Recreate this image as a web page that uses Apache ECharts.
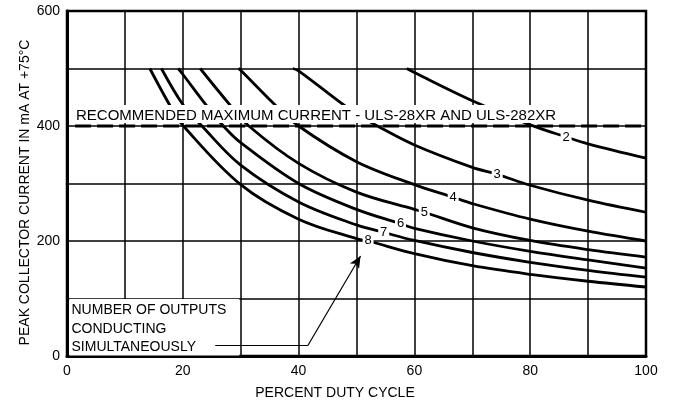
<!DOCTYPE html>
<html>
<head>
<meta charset="utf-8">
<script src="https://cdn.jsdelivr.net/npm/echarts@6/dist/echarts.min.js"></script>
<style>
  html, body { margin: 0; padding: 0; background: #fff; }
</style>
</head>
<body>
<div id="container" style="width: 677px; height: 406px;"></div>
<script>
// curves: [duty cycle %, peak current mA]
var curve2 = [[58.7,500],[60,493],[70,444],[80,402],[86.2,381],[90,369],[100,344]];
var curve3 = [[39,500],[40,496],[47.2,441],[50,421],[53.6,400],[60,367],[70,328],[74.3,316],[80,297],[90,271],[100,250]];
var curve4 = [[29.6,500],[30,497],[35.6,440],[40,400],[50,338],[60,298],[66.7,276],[70,265],[80,238],[90,217],[100,200]];
var curve5 = [[23,500],[28.2,436],[31.4,400],[40,335],[50,285],[60,255],[61.7,250],[70,223],[80,201],[90,185],[100,172]];
var curve6 = [[19.2,500],[20,490],[23.9,438],[27,400],[30,371],[40,300],[50,255],[57.6,230],[60,222],[70,200],[80,182],[90,167],[100,153]];
var curve7 = [[16.3,500],[20.1,436],[23.3,400],[30,332],[40,268],[50,228],[54.7,215],[60,201],[70,180],[80,163],[90,149],[100,137]];
var curve8 = [[14.3,500],[18.1,430],[20.1,400],[30,298],[40,238],[50,204],[52,200],[60,178],[70,157],[80,142],[90,130],[100,120]];

var curveNames = ['2','3','4','5','6','7','8'];
var curveData = [curve2, curve3, curve4, curve5, curve6, curve7, curve8];
// where the outputs number is written on each curve
var labelPos = [[86.2,381],[74.3,316],[66.7,276],[61.7,250],[57.6,230],[54.7,215],[52,201]];

var limitX = [1.4, 100];
var limitY = [400, 400];
var limitText = 'RECOMMENDED MAXIMUM CURRENT - ULS-28XR AND ULS-282XR';
var noteLines = ['NUMBER OF OUTPUTS', 'CONDUCTING', 'SIMULTANEOUSLY'];
var leader = [[25.6,18.3],[41.6,18.3],[50.7,174]];

var FONT = '"Liberation Sans", Arial, sans-serif';

var chart = echarts.init(document.getElementById('container'));

var series = [];
for (var i = 0; i < curveData.length; i++) {
  series.push({
    name: curveNames[i],
    type: 'line',
    data: curveData[i],
    smooth: 0.35,
    symbol: 'none',
    silent: true,
    lineStyle: {color: '#000', width: 2.8},
    markPoint: {
      silent: true,
      symbol: 'rect',
      symbolSize: [11, 15],
      itemStyle: {color: '#fff'},
      label: {show: true, formatter: '{b}', color: '#000', fontSize: 13, fontFamily: FONT},
      data: [{name: curveNames[i], coord: labelPos[i]}]
    }
  });
}

series.push({
  name: 'limit',
  type: 'line',
  data: [[limitX[0], limitY[0]], [limitX[1], limitY[1]]],
  symbol: 'none',
  silent: true,
  lineStyle: {color: '#000', width: 3, type: [16, 6]},
  markArea: {
    silent: true,
    itemStyle: {color: '#fff'},
    data: [[{coord: [0.4, 1]}, {coord: [29.75, 99]}]]
  },
  markLine: {
    silent: true,
    symbol: 'none',
    label: {show: false},
    lineStyle: {color: '#000', width: 1.2, type: 'solid'},
    data: [
      [{coord: leader[0], symbol: 'none'}, {coord: leader[1], symbol: 'none'}],
      [{coord: leader[1], symbol: 'none'}, {coord: leader[2], symbol: 'arrow', symbolSize: [8, 12]}]
    ]
  }
});

var graphics = [
  {type: 'rect', z: 50, shape: {x: 73, y: 105, width: 493, height: 18}, style: {fill: '#fff'}},
  {type: 'text', z: 51, x: 76, y: 116, style: {text: limitText, font: '15px ' + FONT, fill: '#000', verticalAlign: 'middle'}}
];
var noteY = [310.5, 329, 347];
for (var j = 0; j < noteLines.length; j++) {
  graphics.push({type: 'text', z: 51, x: 71.5, y: noteY[j],
    style: {text: noteLines[j], font: '14px ' + FONT, fill: '#000', verticalAlign: 'middle'}});
}

var option = {
  backgroundColor: '#fff',
  animation: false,
  grid: {left: 67, right: 31, top: 11, bottom: 50, show: true, borderColor: '#000', borderWidth: 2.5},
  xAxis: {
    type: 'value', min: 0, max: 100, interval: 10,
    axisLine: {lineStyle: {color: '#000', width: 3}},
    axisTick: {show: false},
    axisLabel: {color: '#000', fontSize: 14, fontFamily: FONT, margin: 8,
      formatter: function (v) { return v % 20 === 0 ? v : ''; }},
    splitLine: {lineStyle: {color: '#000', width: 1.5}},
    name: 'PERCENT DUTY CYCLE', nameLocation: 'middle', nameGap: 30, nameMoveOverlap: false,
    nameTextStyle: {color: '#000', fontSize: 14, fontFamily: FONT, padding: [0, 43, 0, 0]}
  },
  yAxis: {
    type: 'value', min: 0, max: 600, interval: 100,
    axisLine: {show: true, lineStyle: {color: '#000', width: 3}},
    axisTick: {show: false},
    axisLabel: {color: '#000', fontSize: 14, fontFamily: FONT, margin: 7,
      formatter: function (v) { return v % 200 === 0 ? v : ''; }},
    splitLine: {lineStyle: {color: '#000', width: 1.5}},
    name: 'PEAK COLLECTOR CURRENT IN mA AT +75°C', nameLocation: 'middle', nameGap: 35, nameRotate: 90,
    nameMoveOverlap: false,
    nameTextStyle: {color: '#000', fontSize: 14, fontFamily: FONT, padding: [0, 18, 0, 0]}
  },
  graphic: graphics,
  series: series
};

chart.setOption(option);
</script>
</body>
</html>
